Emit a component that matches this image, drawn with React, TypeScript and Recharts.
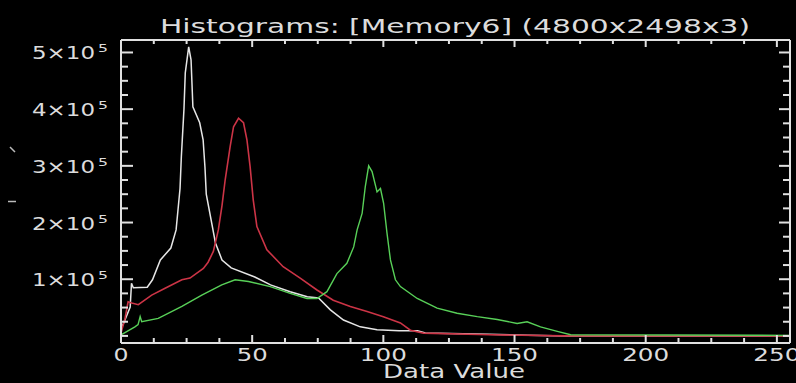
import { Line, LineChart, XAxis, YAxis } from 'recharts';

// histogram samples (x = data value, y = pixel count)
const whiteX = [0, 1.5, 3.5, 4, 4.7, 10, 12, 15, 19, 21, 22.5, 23, 24, 24.5, 25.8, 26.7, 27.4, 30, 31.3, 32, 32.5, 36, 38.5, 42, 51, 57, 64.5, 71, 75.3, 79.8, 84.8, 91.2, 97.6, 106, 113, 116, 140, 155, 170, 255];
const whiteY = [12000, 28000, 51000, 93000, 85000, 86000, 99000, 134000, 155000, 187000, 260000, 316000, 400000, 464000, 510000, 487000, 404000, 376000, 346000, 298000, 250000, 164000, 134000, 120000, 104000, 90000, 78000, 69000, 67000, 46000, 28000, 16000, 11000, 9000, 9000, 5000, 3000, 1000, 0, 0];

const redX = [0, 1.5, 2.7, 4.1, 6.6, 11.7, 16.8, 23.2, 26.3, 31.4, 33.2, 35.2, 37.1, 38.5, 39.7, 41.6, 42.9, 44.8, 46.7, 48, 49.2, 50.4, 51.8, 55.6, 61.8, 68.3, 74.7, 80.9, 87.4, 93.8, 100, 106.5, 110.3, 115.3, 140.8, 168.7, 255];
const redY = [5000, 30000, 60000, 58000, 55000, 72000, 84000, 99000, 102000, 119000, 130000, 149000, 187000, 230000, 275000, 334000, 369000, 384000, 376000, 346000, 299000, 240000, 193000, 152000, 122000, 102000, 81000, 63000, 52000, 43000, 34000, 23000, 10000, 5000, 2000, 0, 0];

const greenX = [0, 5.3, 6.5, 7.3, 7.9, 14.2, 23.2, 30.8, 38.4, 43.5, 48.6, 56.9, 64.5, 70.9, 74.7, 78.5, 82.3, 86.1, 88.7, 90, 91.9, 93.1, 94.4, 95.7, 97.6, 98.9, 100.1, 101.4, 102.7, 104.6, 106.5, 112.9, 120.5, 128.1, 135.8, 143.4, 151, 154.8, 159.9, 166.3, 171.4, 255];
const greenY = [2000, 16000, 20000, 34000, 25000, 31000, 52000, 72000, 90000, 99000, 96000, 87000, 75000, 66000, 66000, 78000, 110000, 128000, 157000, 187000, 216000, 263000, 300000, 290000, 254000, 260000, 234000, 181000, 134000, 99000, 87000, 66000, 49000, 40000, 34000, 29000, 22000, 25000, 16000, 8000, 2000, 1000];

const xTicks = [0, 12.5, 25, 37.5, 50, 62.5, 75, 87.5, 100, 112.5, 125, 137.5, 150, 162.5, 175, 187.5, 200, 212.5, 225, 237.5, 250];
const yTicks = [0, 25000, 50000, 75000, 100000, 125000, 150000, 175000, 200000, 225000, 250000, 275000, 300000, 325000, 350000, 375000, 400000, 425000, 450000, 475000, 500000];

const title = 'Histograms: [Memory6] (4800x2498x3)';
const xLabel = 'Data Value';

const zip = (xs: number[], ys: number[]) => xs.map((x, i) => ({ x, y: ys[i] }));
const whiteData = zip(whiteX, whiteY);
const redData = zip(redX, redY);
const greenData = zip(greenX, greenY);

// plot box: left 121, right 790, top 40, bottom 343
const plotW = 669;
const plotH = 303;
const axisColor = '#e0e0e0';
const textColor = '#dcdcdc';
const font = '"DejaVu Sans", sans-serif';

const BottomLabel = (props: any) => {
  const { x, y, payload } = props;
  const v = payload.value;
  if (v % 50 !== 0) return <g />;
  const label = String(v);
  return (
    <text x={x} y={y + 18} textAnchor="middle" fill={textColor} fontFamily={font} fontSize={18}
      textLength={label.length * 16 - 1} lengthAdjust="spacingAndGlyphs">{label}</text>
  );
};

// top axis draws its own inward ticks and the matching ones on the bottom edge
const TopTick = (props: any) => {
  const { x, y, payload } = props;
  const major = payload.value % 50 === 0;
  return (
    <g>
      <line x1={x} x2={x} y1={y} y2={y + (major ? 7 : 4)} stroke={axisColor} strokeWidth={2} />
      <line x1={x} x2={x} y1={y + plotH} y2={y + plotH - (major ? 8 : 5)} stroke={axisColor} strokeWidth={2} />
    </g>
  );
};

const LeftLabel = (props: any) => {
  const { x, y, payload } = props;
  const v = payload.value;
  if (!(v % 100000 === 0 && v > 0)) return <g />;
  return (
    <g>
      <text x={x - 26} y={y + 7} textAnchor="end" fill={textColor} fontFamily={font} fontSize={18}
        textLength={63} lengthAdjust="spacingAndGlyphs">{`${v / 100000}×10`}</text>
      <text x={x - 23} y={y} fill={textColor} fontFamily={font} fontSize={11}
        textLength={10} lengthAdjust="spacingAndGlyphs">5</text>
    </g>
  );
};

// right axis draws its own inward ticks and the matching ones on the left edge
const RightTick = (props: any) => {
  const { x, y, payload } = props;
  const major = payload.value % 100000 === 0 && payload.value > 0;
  return (
    <g>
      <line x1={x} x2={x - (major ? 11 : 7)} y1={y} y2={y} stroke={axisColor} strokeWidth={2} />
      <line x1={x - plotW} x2={x - plotW + (major ? 12 : 7)} y1={y} y2={y} stroke={axisColor} strokeWidth={2} />
    </g>
  );
};

export default function App() {
  return (
    <div style={{ position: 'fixed', left: 0, top: 0, width: 796, height: 383, background: '#000', overflow: 'hidden' }}>
      <svg width={796} height={383} style={{ position: 'absolute', left: 0, top: 0 }}>
        <text x={455} y={33} textAnchor="middle" fill={textColor} fontFamily={font} fontSize={20}
          textLength={590} lengthAdjust="spacingAndGlyphs">{title}</text>
        <text x={454} y={378} textAnchor="middle" fill={textColor} fontFamily={font} fontSize={20}
          textLength={142} lengthAdjust="spacingAndGlyphs">{xLabel}</text>
        <line x1={10} y1={147} x2={15} y2={152} stroke="#bbb" strokeWidth={1.5} />
        <line x1={8} y1={201.5} x2={16} y2={201.5} stroke="#bbb" strokeWidth={1.5} />
      </svg>
      <LineChart width={796} height={383} margin={{ top: 39, right: 5, bottom: 0, left: 0 }}>
        <XAxis xAxisId="b" type="number" dataKey="x" domain={[0, 255]} ticks={xTicks} interval={0}
          height={40} tickSize={0} tickMargin={0} tickLine={false} tick={<BottomLabel />}
          axisLine={{ stroke: axisColor, strokeWidth: 2 }} />
        <XAxis xAxisId="t" orientation="top" type="number" dataKey="x" domain={[0, 255]} ticks={xTicks} interval={0}
          height={1} tickSize={0} tickMargin={0} tickLine={false} tick={<TopTick />}
          axisLine={{ stroke: axisColor, strokeWidth: 2 }} />
        <YAxis yAxisId="l" type="number" domain={[-12500, 522000]} ticks={yTicks} interval={0}
          width={121} tickSize={0} tickMargin={0} tickLine={false} tick={<LeftLabel />}
          axisLine={{ stroke: axisColor, strokeWidth: 2 }} />
        <YAxis yAxisId="r" orientation="right" type="number" domain={[-12500, 522000]} ticks={yTicks} interval={0}
          width={1} tickSize={0} tickMargin={0} tickLine={false} tick={<RightTick />}
          axisLine={{ stroke: axisColor, strokeWidth: 2 }} />
        <Line xAxisId="b" yAxisId="l" data={whiteData} dataKey="y" type="linear" stroke="#e6e6e6" strokeWidth={1.5} dot={false} isAnimationActive={false} />
        <Line xAxisId="b" yAxisId="l" data={redData} dataKey="y" type="linear" stroke="#cc3446" strokeWidth={1.6} dot={false} isAnimationActive={false} />
        <Line xAxisId="b" yAxisId="l" data={greenData} dataKey="y" type="linear" stroke="#58d058" strokeWidth={1.4} dot={false} isAnimationActive={false} />
        <Line xAxisId="t" yAxisId="r" data={greenData} dataKey="y" stroke="none" dot={false} isAnimationActive={false} />
      </LineChart>
    </div>
  );
}
